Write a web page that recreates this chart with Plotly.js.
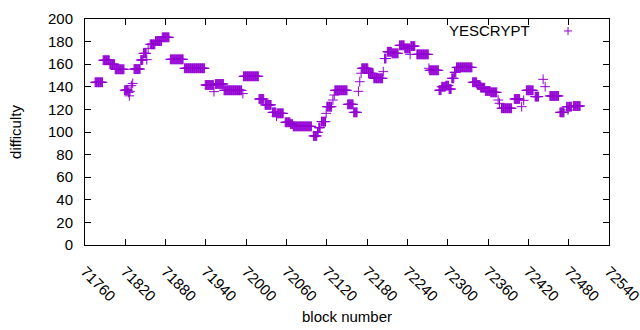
<!DOCTYPE html>
<html>
<head>
<meta charset="utf-8">
<script src="https://cdn.plot.ly/plotly-3.0.1.min.js"></script>
<style>html,body{margin:0;padding:0;background:#fff;}#chart{width:640px;height:330px;}</style>
</head>
<body>
<div id="chart"></div>
<script>
// Runs of blocks sharing a difficulty value
const runStart = [71775,71787,71797,71805,71819,71825,71826,71827,71829,71831,71833,71843,71847,71852,71854,71857,71865,71875,71887,71908,71939,71952,71954,71967,71995,71996,72019,72028,72039,72045,72046,72058,72066,72070,72100,72106,72108,72112,72119,72120,72129,72131,72132,72151,72160,72167,72169,72171,72172,72182,72190,72204,72206,72210,72217,72228,72236,72244,72245,72254,72272,72273,72287,72291,72297,72302,72306,72310,72313,72337,72344,72349,72356,72364,72375,72377,72380,72399,72410,72413,72417,72430,72442,72445,72452,72467,72477,72479,72480,72487];
const runEnd   = [71786,71796,71804,71818,71824,71825,71826,71827,71829,71831,71842,71846,71851,71852,71854,71864,71874,71885,71906,71938,71951,71952,71966,71993,71995,72018,72026,72037,72044,72045,72055,72065,72069,72097,72105,72107,72110,72118,72119,72127,72129,72131,72150,72159,72165,72167,72169,72171,72181,72189,72203,72204,72208,72216,72226,72235,72243,72244,72251,72271,72272,72286,72290,72296,72301,72305,72309,72312,72336,72343,72348,72355,72363,72373,72375,72377,72395,72407,72410,72413,72427,72435,72442,72445,72465,72473,72478,72479,72484,72497];
const runDiff  = [144,163.5,160,155.5,137,135,132,136,141,143,155.7,163.7,169.6,164,174,177.6,180.5,183.8,164.3,156.4,141.6,135.7,142.5,136.9,134,149.3,129.2,124,117.4,114,116.5,108.6,107,105,96.5,99.7,103.8,109.2,116.5,122.4,128.3,132.7,136.9,124.5,117.4,136,144.5,152,156.4,151.9,147.5,153.4,165,171,169.6,176.7,174,168.7,176,168.7,156.4,154.6,137,140,141,138,147.5,152.8,157.2,144,141.6,139.2,136.3,135.1,128.3,125.4,121,129.2,122.4,128,136.9,131.3,146.6,140.1,131.9,117.4,122.4,119.5,122.4,123];

const xTicks = [71760,71820,71880,71940,72000,72060,72120,72180,72240,72300,72360,72420,72480,72540];
const yTicks = [0,20,40,60,80,100,120,140,160,180,200];
const seriesName = 'YESCRYPT';

const blocks = [], difficulty = [];
for (let i = 0; i < runStart.length; i++) {
  for (let b = runStart[i]; b <= runEnd[i]; b++) { blocks.push(b); difficulty.push(runDiff[i]); }
}

const purple = '#9400d3';
const font = {family: 'Liberation Sans, Arial, sans-serif', size: 15, color: '#000'};

const trace = {
  x: blocks, y: difficulty, type: 'scatter', mode: 'markers', name: seriesName,
  marker: {symbol: 'cross-thin', size: 7, color: purple, line: {color: purple, width: 1}},
  showlegend: false, hoverinfo: 'skip'
};

const legX = 0.9218, legY = 0.947;
const layout = {
  width: 640, height: 330,
  margin: {l: 85, r: 31, t: 19, b: 85},
  paper_bgcolor: '#fff', plot_bgcolor: '#fff',
  font: font,
  showlegend: false,
  xaxis: {
    range: [xTicks[0], xTicks[xTicks.length-1] + 0.01], tickvals: xTicks, ticktext: xTicks.map(String),
    tickangle: 45, ticks: 'inside', ticklen: 6, tickcolor: '#000', tickwidth: 1,
    showline: true, linecolor: '#000', linewidth: 1, mirror: 'ticks',
    showgrid: false, zeroline: false, tickfont: font, ticklabelstandoff: 11,
    ticklabeloverflow: 'allow',
    title: {text: 'block number', font: font, standoff: 8}
  },
  yaxis: {
    range: [0, 200], tickvals: yTicks, ticks: 'inside', ticklen: 6, tickcolor: '#000', tickwidth: 1,
    showline: true, linecolor: '#000', linewidth: 1, mirror: 'ticks',
    showgrid: false, zeroline: false, tickfont: font, ticklabelstandoff: 8,
    title: {text: 'difficulty', font: font, standoff: 22}
  },
  annotations: [{
    text: seriesName, xref: 'paper', yref: 'paper', x: 0.853, y: legY,
    xanchor: 'right', yanchor: 'middle', showarrow: false, font: font
  }],
  shapes: [
    {type: 'line', xref: 'paper', yref: 'paper', xsizemode: 'pixel', xanchor: legX, x0: -4, x1: 4, y0: legY, y1: legY, line: {color: purple, width: 1}},
    {type: 'line', xref: 'paper', yref: 'paper', xsizemode: 'pixel', ysizemode: 'pixel', xanchor: legX, yanchor: legY, x0: 0, x1: 0, y0: -4, y1: 4, line: {color: purple, width: 1}}
  ]
};

Plotly.newPlot('chart', [trace], layout, {staticPlot: true, displayModeBar: false});
</script>
</body>
</html>
